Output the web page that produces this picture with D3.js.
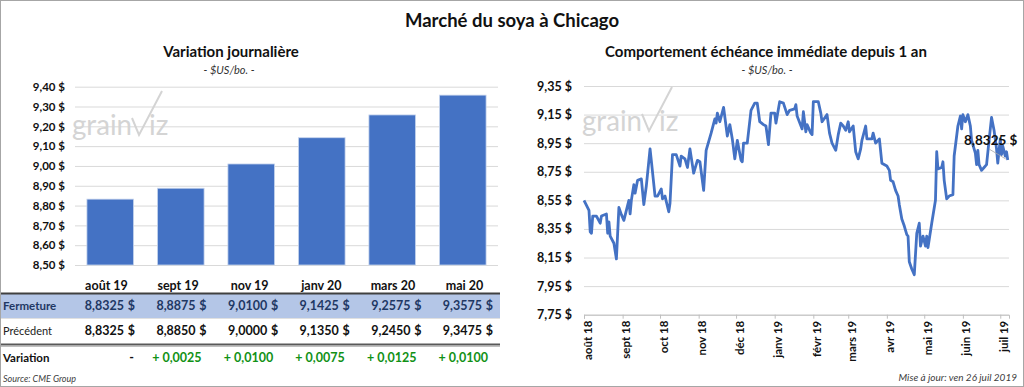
<!DOCTYPE html>
<html><head><meta charset="utf-8">
<script src="https://cdn.jsdelivr.net/npm/d3@7/dist/d3.min.js"></script>
<style>
body{margin:0;background:#fff;}
svg{display:block;font-family:Lato,"Open Sans",sans-serif;}
</style></head>
<body><svg id="c" width="1024" height="387"></svg>
<script>
// ---------- data ----------
const categories = ["août 19","sept 19","nov 19","janv 20","mars 20","mai 20"];
const fermeture  = [8.8325, 8.8875, 9.0100, 9.1425, 9.2575, 9.3575];
const precedent  = [8.8325, 8.8850, 9.0000, 9.1350, 9.2450, 9.3475];
const leftTicks  = [8.50,8.60,8.70,8.80,8.90,9.00,9.10,9.20,9.30,9.40];
const rightTicks = [7.75,7.95,8.15,8.35,8.55,8.75,8.95,9.15,9.35];
const monthLabels = ["août 18","sept 18","oct 18","nov 18","déc 18","janv 19","févr 19","mars 19","avr 19","mai 19","juin 19","juil 19"];
const monthDates  = ["2018-08-01","2018-09-01","2018-10-01","2018-11-01","2018-12-01","2019-01-01","2019-02-01","2019-03-01","2019-04-01","2019-05-01","2019-06-01","2019-07-01"];
const dateDomain  = ["2018-08-01","2019-07-08"];
const nearbyDates = ["2018-08-01","2018-08-05","2018-08-06","2018-08-07","2018-08-08","2018-08-11","2018-08-14","2018-08-15","2018-08-19","2018-08-20","2018-08-21","2018-08-22","2018-08-25","2018-08-27","2018-08-29","2018-08-31","2018-09-02","2018-09-04","2018-09-06","2018-09-07","2018-09-08","2018-09-10","2018-09-11","2018-09-13","2018-09-16","2018-09-18","2018-09-20","2018-09-23","2018-09-24","2018-09-27","2018-09-29","2018-10-02","2018-10-03","2018-10-05","2018-10-08","2018-10-09","2018-10-11","2018-10-14","2018-10-17","2018-10-18","2018-10-21","2018-10-23","2018-10-25","2018-10-28","2018-10-31","2018-11-02","2018-11-05","2018-11-07","2018-11-11","2018-11-14","2018-11-15","2018-11-16","2018-11-18","2018-11-21","2018-11-24","2018-11-26","2018-11-28","2018-11-30","2018-12-02","2018-12-05","2018-12-06","2018-12-07","2018-12-10","2018-12-13","2018-12-16","2018-12-18","2018-12-20","2018-12-23","2018-12-25","2018-12-27","2018-12-29","2019-01-01","2019-01-02","2019-01-05","2019-01-08","2019-01-11","2019-01-13","2019-01-17","2019-01-18","2019-01-19","2019-01-23","2019-01-24","2019-01-26","2019-01-27","2019-01-30","2019-01-31","2019-02-01","2019-02-05","2019-02-07","2019-02-08","2019-02-12","2019-02-14","2019-02-16","2019-02-19","2019-02-21","2019-02-23","2019-02-25","2019-02-27","2019-03-01","2019-03-02","2019-03-05","2019-03-07","2019-03-09","2019-03-11","2019-03-12","2019-03-15","2019-03-16","2019-03-20","2019-03-21","2019-03-23","2019-03-26","2019-03-28","2019-04-01","2019-04-03","2019-04-04","2019-04-06","2019-04-08","2019-04-10","2019-04-11","2019-04-13","2019-04-15","2019-04-17","2019-04-18","2019-04-19","2019-04-21","2019-04-23","2019-04-25","2019-04-27","2019-04-28","2019-04-30","2019-05-02","2019-05-03","2019-05-04","2019-05-07","2019-05-10","2019-05-11","2019-05-12","2019-05-15","2019-05-16","2019-05-17","2019-05-19","2019-05-21","2019-05-24","2019-05-25","2019-05-28","2019-05-30","2019-05-31","2019-06-01","2019-06-03","2019-06-05","2019-06-07","2019-06-08","2019-06-11","2019-06-12","2019-06-13","2019-06-14","2019-06-16","2019-06-18","2019-06-20","2019-06-22","2019-06-24","2019-06-26","2019-06-28","2019-06-29","2019-07-01","2019-07-02","2019-07-03","2019-07-05","2019-07-06","2019-07-07"];
const nearbyValues = [8.55,8.48,8.33,8.32,8.44,8.44,8.39,8.44,8.455,8.32,8.40,8.30,8.25,8.14,8.50,8.45,8.41,8.48,8.55,8.455,8.55,8.66,8.60,8.69,8.70,8.52,8.65,8.91,8.83,8.58,8.58,8.63,8.56,8.58,8.47,8.53,8.87,8.87,8.79,8.86,8.84,8.78,8.91,8.74,8.83,8.82,8.62,8.90,9.02,9.12,9.09,9.16,9.10,9.20,9.00,9.08,8.98,8.84,8.97,8.83,8.82,8.95,8.95,9.18,9.23,9.23,9.10,9.08,9.07,8.94,9.16,9.16,9.09,9.24,9.23,9.15,9.18,9.19,9.22,9.14,9.05,9.17,9.03,9.08,9.02,9.01,9.24,9.24,9.16,9.10,9.15,9.02,8.95,8.90,9.01,9.09,9.07,9.04,9.10,9.03,9.07,8.89,8.84,8.91,8.97,9.07,8.98,8.98,9.02,8.95,8.98,8.81,8.79,8.76,8.69,8.68,8.62,8.58,8.52,8.42,8.37,8.31,8.30,8.12,8.07,8.03,8.32,8.39,8.23,8.30,8.23,8.30,8.22,8.39,8.55,8.89,8.77,8.78,8.82,8.69,8.56,8.58,8.59,8.86,9.07,9.14,9.05,9.15,9.10,9.15,9.07,8.97,8.88,8.80,8.90,8.80,8.76,8.78,8.80,8.97,9.13,9.04,8.91,8.81,8.98,8.87,8.93,8.86,8.89,8.8325];

// ---------- helpers ----------
const svg = d3.select("#c");
const parse = d3.timeParse("%Y-%m-%d");
const fr = (v, d) => d3.format("." + d + "f")(v).replace(".", ",");
const BLUE = "#4472C4", GRID = "#d9d9d9";

// frame
svg.append("rect").attr("x",0.5).attr("y",0.5).attr("width",1023).attr("height",386)
  .attr("fill","#fff").attr("stroke","#a6a6a6");

// main title
svg.append("text").attr("x",512).attr("y",27).attr("text-anchor","middle")
  .attr("font-size",18.5).attr("font-weight","bold").attr("fill","#111").text("Marché du soya à Chicago");

// watermark
function watermark(gx, gy){
  const g = svg.append("g").attr("transform",`translate(${gx},${gy})`).attr("fill","#d4d4d4");
  g.append("text").attr("x",0).attr("y",0).attr("font-size",28).attr("textLength",60)
    .attr("lengthAdjust","spacingAndGlyphs").text("grain");
  g.append("text").attr("x",77).attr("y",0).attr("font-size",28).text("iz");
  g.append("path").attr("d","M60,-17 L67,0 L90,-44").attr("fill","none")
    .attr("stroke","#d4d4d4").attr("stroke-width",2);
}

// ---------- left panel ----------
const lx0 = 75, lx1 = 498, ly0 = 265, ly1 = 86.7;
svg.append("text").attr("x",231).attr("y",57).attr("text-anchor","middle")
  .attr("font-size",15).attr("font-weight","bold").attr("fill","#111").text("Variation journalière");
svg.append("text").attr("x",229).attr("y",74).attr("text-anchor","middle")
  .attr("font-size",11).attr("font-style","italic").attr("fill","#333").text("- $US/bo. -");

const yL = d3.scaleLinear().domain([8.5, 9.4]).range([ly0, ly1]);
const xL = d3.scaleBand().domain(categories).range([lx0, lx1]).paddingInner(0.338).paddingOuter(0.169);

const gyL = svg.append("g").attr("transform",`translate(${lx0},0)`)
  .call(d3.axisLeft(yL).tickValues(leftTicks).tickSize(-(lx1-lx0)).tickPadding(10)
        .tickFormat(d => fr(d,2) + " $"));
gyL.select(".domain").remove();
gyL.selectAll(".tick line").attr("stroke",GRID);
gyL.selectAll(".tick text").attr("font-size",11.5).attr("font-weight","bold").attr("fill","#111")
  .attr("font-family","Lato");
watermark(72, 135);

svg.append("g").selectAll("rect").data(categories).join("rect")
  .attr("x", d => xL(d)).attr("width", xL.bandwidth())
  .attr("y", (d,i) => yL(fermeture[i])).attr("height", (d,i) => ly0 - yL(fermeture[i]))
  .attr("fill", BLUE).attr("stroke","#c9d6ee").attr("stroke-width",0.8);

// ---------- table ----------
const xT = d3.scaleBand().domain(categories).range([63.4, 493]);
const colR = c => xT(c) + xT.step();
svg.append("rect").attr("x",1).attr("y",294).attr("width",499).attr("height",24).attr("fill","#B4C6E7");
svg.append("line").attr("x1",1).attr("x2",500).attr("y1",293.5).attr("y2",293.5).attr("stroke","#404040").attr("stroke-width",2);
svg.append("line").attr("x1",1).attr("x2",500).attr("y1",318.5).attr("y2",318.5).attr("stroke","#e0e0e0").attr("stroke-width",1);
svg.append("line").attr("x1",1).attr("x2",500).attr("y1",344.5).attr("y2",344.5).attr("stroke","#595959").attr("stroke-width",2);
svg.append("line").attr("x1",1).attr("x2",500).attr("y1",346.5).attr("y2",346.5).attr("stroke","#bfbfbf").attr("stroke-width",1);

const tbl = svg.append("g").attr("font-family","Lato");
tbl.selectAll("text.h").data(categories).join("text").attr("class","h")
  .attr("x", c => colR(c) - 28.5).attr("y",290).attr("text-anchor","middle")
  .attr("font-size",12.5).attr("font-weight","bold").attr("fill","#111").text(c => c);

tbl.append("text").attr("x",3).attr("y",310).attr("font-size",11.5).attr("font-weight","bold").attr("fill","#1F3864").text("Fermeture");
tbl.append("text").attr("x",3).attr("y",335).attr("font-size",11).attr("fill","#222").text("Précédent");
tbl.append("text").attr("x",3).attr("y",362).attr("font-size",11.5).attr("font-weight","bold").attr("fill","#111").text("Variation");

function valueRow(vals, y, color){
  tbl.selectAll(null).data(categories).join("text")
    .attr("x", c => colR(c) - 11).attr("y", y).attr("text-anchor","end")
    .attr("font-size",12.5).attr("font-weight","bold").attr("fill",color)
    .text((c,i) => fr(vals[i],4));
  tbl.selectAll(null).data(categories).join("text")
    .attr("x", c => colR(c)).attr("y", y).attr("text-anchor","end")
    .attr("font-size",12.5).attr("font-weight","bold").attr("fill",color).text("$");
}
valueRow(fermeture, 310, "#1F3864");
valueRow(precedent, 335, "#111");
tbl.selectAll(null).data(categories).join("text")
  .attr("x", (c,i) => { const d = fermeture[i]-precedent[i]; return Math.abs(d) < 1e-9 ? colR(c) - 1 : colR(c) - 5; })
  .attr("y", 362).attr("text-anchor","end").attr("font-size",12.5).attr("font-weight","bold")
  .attr("fill", (c,i) => Math.abs(fermeture[i]-precedent[i]) < 1e-9 ? "#111" : "#119116")
  .text((c,i) => { const d = fermeture[i]-precedent[i]; return Math.abs(d) < 1e-9 ? "-" : (d > 0 ? "+ " : "- ") + fr(Math.abs(d),4); });

svg.append("text").attr("x",3).attr("y",382).attr("font-size",9).attr("font-style","italic")
  .attr("fill","#404040").text("Source: CME Group");

// ---------- right panel ----------
const rx0 = 584, rx1 = 1009, ry0 = 314.7, ry1 = 86;
svg.append("text").attr("x",766).attr("y",57).attr("text-anchor","middle")
  .attr("font-size",15).attr("font-weight","bold").attr("fill","#111").text("Comportement échéance immédiate depuis 1 an");
svg.append("text").attr("x",767).attr("y",74).attr("text-anchor","middle")
  .attr("font-size",11).attr("font-style","italic").attr("fill","#333").text("- $US/bo. -");

const yR = d3.scaleLinear().domain([7.75, 9.35]).range([ry0, ry1]);
const xR = d3.scaleTime().domain(dateDomain.map(parse)).range([rx0, rx1]);

const gyR = svg.append("g").attr("transform",`translate(${rx0},0)`)
  .call(d3.axisLeft(yR).tickValues(rightTicks).tickSize(-(rx1-rx0)).tickPadding(12)
        .tickFormat(d => fr(d,2) + " $"));
gyR.select(".domain").remove();
gyR.selectAll(".tick line").attr("stroke",GRID);
gyR.selectAll(".tick text").attr("font-size",12.5).attr("font-weight","bold").attr("fill","#111")
  .attr("font-family","Lato");
watermark(582, 131);

const gxR = svg.append("g").attr("transform",`translate(0,${ry0})`)
  .call(d3.axisBottom(xR).tickValues(monthDates.map(parse)).tickSize(4)
        .tickFormat((d,i) => monthLabels[i]));
gxR.select(".domain").attr("stroke","#bfbfbf");
gxR.selectAll(".tick line").attr("stroke","#bfbfbf");
gxR.selectAll(".tick text").attr("font-size",11.5).attr("font-weight","bold").attr("fill","#111")
  .attr("font-family","Lato")
  .attr("transform","rotate(-90)").attr("text-anchor","end")
  .attr("x",-6).attr("y",3).attr("dy","0.35em");

const series = nearbyDates.map((d,i) => ({date: parse(d), value: nearbyValues[i]}));
const line = d3.line().x(d => xR(d.date)).y(d => yR(d.value));
svg.append("path").datum(series).attr("d", line).attr("fill","none")
  .attr("stroke", BLUE).attr("stroke-width",2.8).attr("stroke-linejoin","round");

// last value label
const last = series[series.length-1];
svg.append("line").attr("x1",989).attr("y1",149).attr("x2",xR(last.date)-2).attr("y2",yR(last.value)-1)
  .attr("stroke","#a6a6a6").attr("stroke-width",0.8);
svg.append("text").attr("x",964).attr("y",145).attr("font-size",13.5).attr("font-weight","bold")
  .attr("fill","#111").text(fr(last.value,4) + " $");

svg.append("text").attr("x",1017).attr("y",381).attr("text-anchor","end").attr("font-size",10)
  .attr("font-style","italic").attr("fill","#404040").text("Mise à jour: ven 26 juil 2019");
</script></body></html>
